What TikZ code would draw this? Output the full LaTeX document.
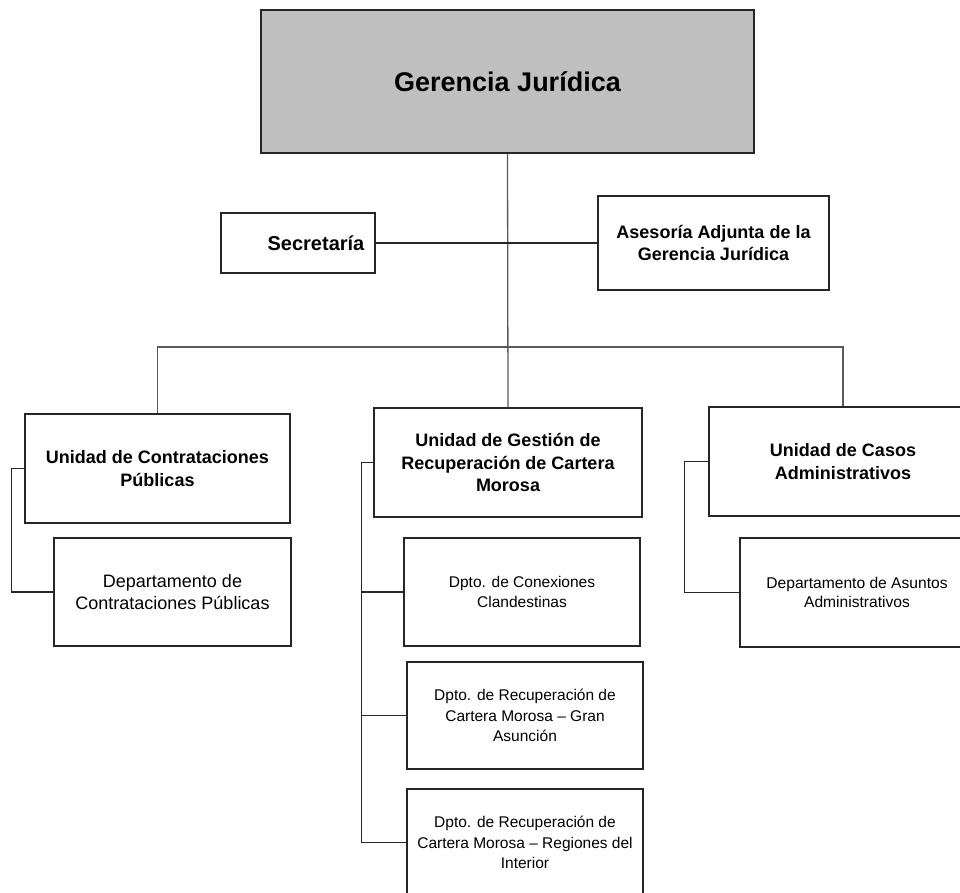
\documentclass[tikz,border=0pt]{standalone}
\usepackage{fontspec}
\setmainfont{Liberation Sans}
\begin{document}
\begin{tikzpicture}[x=1pt,y=-1pt,
  box/.style={draw=black!85,line width=1.2pt,rectangle,inner sep=0pt,align=center,anchor=center},
  ttl/.style={box,fill=black!25,line width=1.6pt,font=\fontsize{27}{32}\selectfont\bfseries},
  boldA/.style={box,font=\fontsize{18}{22.5}\selectfont\bfseries},
  regA/.style={box,font=\fontsize{18}{21.7}\selectfont},
  regB/.style={box,font=\fontsize{15.5}{20.5}\selectfont},
  regC/.style={box,font=\fontsize{15.6}{19}\selectfont},
  conn/.style={draw=black!65,line width=1.3pt},
  connd/.style={draw=black!85,line width=1.3pt}]
\useasboundingbox (0,0) rectangle (960,892);
% nodes
\node[ttl,minimum width=493pt,minimum height=143pt] (top) at (507.5,81.5) {Gerencia Jurídica};
\node[box,minimum width=154pt,minimum height=60pt,font=\fontsize{20}{24}\selectfont\bfseries] (secr) at (298,243) {\hspace*{36pt}Secretaría};
\node[boldA,minimum width=231pt,minimum height=94pt] (ases) at (713.5,243) {Asesoría Adjunta de la\\Gerencia Jurídica};
\node[boldA,minimum width=265pt,minimum height=109pt] (uc) at (157.5,468.5) {Unidad de Contrataciones\\Públicas};
\node[regA,minimum width=237pt,minimum height=108pt] (dc) at (172.5,592) {Departamento de\\Contrataciones Públicas};
\node[boldA,minimum width=268pt,minimum height=109pt] (ug) at (508,462.5) {Unidad de Gestión de\\Recuperación de Cartera\\Morosa};
\node[regB,minimum width=236pt,minimum height=108pt] (dcon) at (522,592) {Dpto. de Conexiones\\Clandestinas};
\node[regB,minimum width=236pt,minimum height=107pt] (dgran) at (525,715.5) {Dpto. de Recuperación de\\Cartera Morosa – Gran\\Asunción};
\node[regB,minimum width=236pt,minimum height=107pt] (dreg) at (525,842.5) {Dpto. de Recuperación de\\Cartera Morosa – Regiones del\\Interior};
\node[boldA,minimum width=268pt,minimum height=109pt] (ucas) at (843,461.5) {Unidad de Casos\\Administrativos};
\node[regC,minimum width=234pt,minimum height=109pt] (dasu) at (857,592.5) {Departamento de Asuntos\\Administrativos};
% connectors
\coordinate (bus) at (508,347);
\draw[conn] (top.south) -- (ug.north);
\draw[connd] (secr.east) -- (ases.west);
\draw[conn] (uc.north) |- (bus) -| (ucas.north);
\draw[connd] (uc.west) -- ++(-13,0) |- (dc.west);
\draw[connd] (ug.west) -- ++(-12,0) coordinate (ugl) |- (dreg.west);
\draw[connd] (ugl |- dcon.west) -- (dcon.west);
\draw[connd] (ugl |- dgran.west) -- (dgran.west);
\draw[connd] (ucas.west) -- ++(-24,0) |- (dasu.west);
\end{tikzpicture}
\end{document}
